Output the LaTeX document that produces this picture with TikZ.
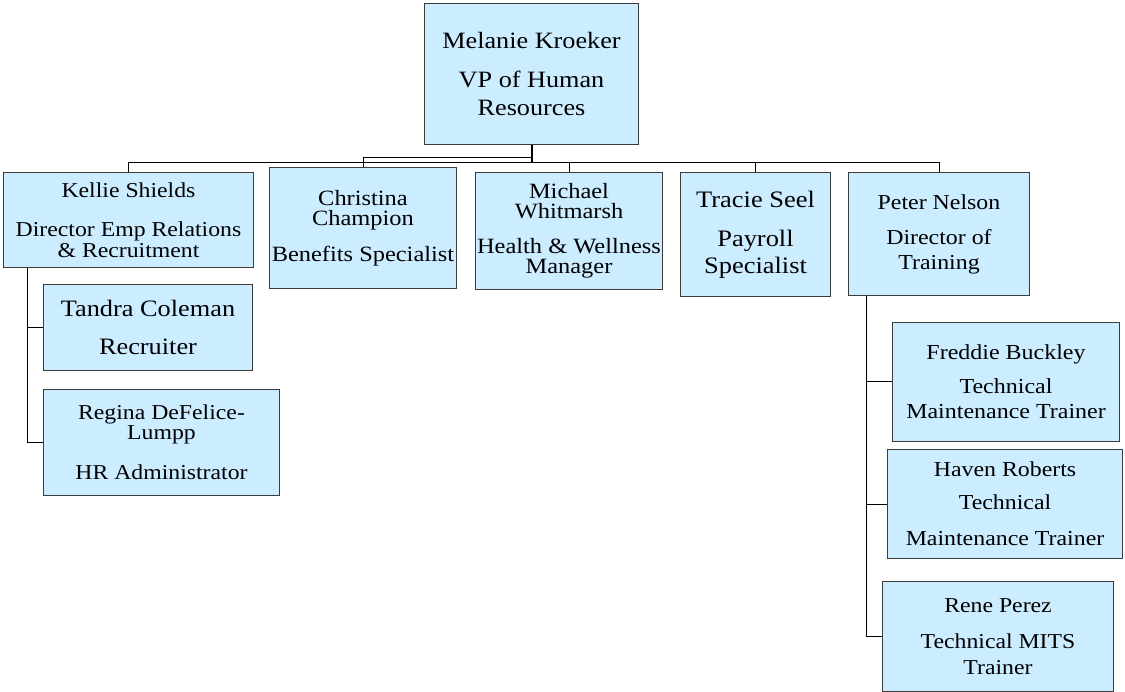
\documentclass[tikz,border=0pt]{standalone}
\usepackage{fontspec}
\setmainfont{Liberation Serif}[FakeStretch=1.12]
\definecolor{boxfill}{RGB}{204,236,255}
\definecolor{boxline}{RGB}{60,60,60}
\tikzset{
  orgbox/.style={draw=boxline, fill=boxfill, line width=1pt, align=center,
    inner sep=0pt, anchor=north west},
  conn/.style={draw=black, line width=1pt},
  fs/.style 2 args={font=\fontsize{#1}{#2}\selectfont}
}
\begin{document}
\begin{tikzpicture}[x=1pt,y=-1pt]
\useasboundingbox (0,0) rectangle (1125,692);
\fill[white] (0,0) rectangle (1125,692);

\node[orgbox, fs={23.4}{27.7}, minimum width=214, minimum height=141] (top) at (424,3)
  {Melanie Kroeker\\[11.3pt]VP of Human\\Resources};

\node[orgbox, fs={21.2}{20.5}, minimum width=250, minimum height=95] (kellie) at (3,172)
  {Kellie Shields\\[18.8pt]Director Emp Relations\\\& Recruitment};
\node[orgbox, fs={21.8}{20}, minimum width=187, minimum height=121] (christina) at (269,167)
  {Christina\\Champion\\[16pt]Benefits Specialist};
\node[orgbox, fs={21.8}{20}, minimum width=187, minimum height=117] (michael) at (475,172)
  {Michael\\Whitmarsh\\[15pt]Health \& Wellness\\Manager};
\node[orgbox, fs={23.6}{26.7}, minimum width=150, minimum height=124] (tracie) at (680,172)
  {Tracie Seel\\[12.3pt]Payroll\\Specialist};
\node[orgbox, fs={21.3}{25}, minimum width=181, minimum height=123] (peter) at (848,172)
  {Peter Nelson\\[10pt]Director of\\Training};

\node[orgbox, fs={23.5}{27}, minimum width=209, minimum height=86] (tandra) at (43,284)
  {Tandra Coleman\\[11.3pt]Recruiter};
\node[orgbox, fs={21.2}{20}, minimum width=236, minimum height=106] (regina) at (43,389)
  {Regina DeFelice-\\Lumpp\\[20pt]HR Administrator};

\node[orgbox, fs={21.4}{25}, minimum width=227, minimum height=119] (freddie) at (892,322)
  {Freddie Buckley\\[9pt]Technical\\Maintenance Trainer};
\node[orgbox, fs={21.3}{33}, minimum width=235, minimum height=109] (haven) at (887,449)
  {Haven Roberts\\Technical\\[3pt]Maintenance Trainer};
\node[orgbox, fs={21.2}{26}, minimum width=231, minimum height=110] (rene) at (882,581)
  {Rene Perez\\[10pt]Technical MITS\\Trainer};

% connectors
\coordinate (busy) at (0,163);
\coordinate (chy) at (0,158);
\coordinate (kx) at (27,0);
\coordinate (px) at (866,0);

\draw[conn, line width=2pt] (top.south) -- (top.south |- busy);
\draw[conn] (kellie.north) |- (busy -| peter.north) -- (peter.north);
\draw[conn] (michael.north) -- (michael.north |- busy);
\draw[conn] (tracie.north) -- (tracie.north |- busy);
\draw[conn] (christina.north) |- (top.south |- chy);

\draw[conn] (kellie.south -| kx) |- (regina.west);
\draw[conn] (kx |- tandra.west) -- (tandra.west);

\draw[conn] (peter.south -| px) |- (rene.west);
\draw[conn] (px |- freddie.west) -- (freddie.west);
\draw[conn] (px |- haven.west) -- (haven.west);
\end{tikzpicture}
\end{document}
